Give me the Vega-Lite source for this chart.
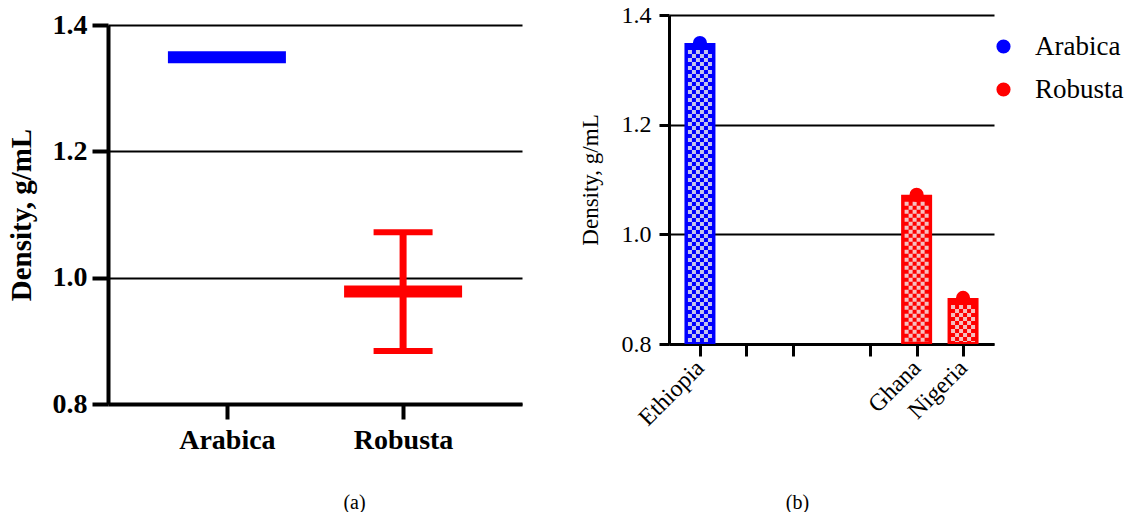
{
  "$schema": "https://vega.github.io/schema/vega-lite/v6.json",
  "background": "white",
  "padding": {"left": 7, "top": 3, "right": 0, "bottom": 0},
  "spacing": 57,
  "resolve": {"scale": {"color": "independent"}, "legend": {"color": "independent"}},
  "datasets": {
    "density": [
      {"country": "Ethiopia", "variety": "Arabica", "density": 1.349},
      {"country": "Ghana", "variety": "Robusta", "density": 1.072},
      {"country": "Nigeria", "variety": "Robusta", "density": 0.884}
    ]
  },
  "hconcat": [
    {
      "spacing": -11,
      "vconcat": [
        {
          "width": 10,
          "height": 7,
          "data": {"values": []},
          "mark": {"type": "point", "opacity": 0}
        },
        {
          "width": 414,
          "height": 379,
          "data": {"name": "density"},
          "encoding": {
            "x": {
              "field": "variety",
              "type": "nominal",
              "scale": {"type": "point", "padding": 0.675, "domain": ["Arabica", "Robusta"]},
              "axis": {
                "labelAngle": 0,
                "labelFontSize": 28,
                "labelFontWeight": "bold",
                "labelPadding": 7,
                "tickSize": 15,
                "tickWidth": 4,
                "domainWidth": 4,
                "title": "(a)",
                "titleX": 246,
                "titleY": 98,
                "titleFontSize": 20,
                "titleFontWeight": "normal",
                "titleBaseline": "middle",
                "titleAlign": "center"
              }
            },
            "color": {
              "field": "variety",
              "type": "nominal",
              "scale": {"domain": ["Arabica", "Robusta"], "range": ["#0000ff", "#ff0000"]},
              "legend": null
            }
          },
          "layer": [
            {
              "mark": {"type": "rule", "strokeWidth": 7},
              "encoding": {
                "y": {
                  "aggregate": "min",
                  "field": "density",
                  "type": "quantitative",
                  "title": "Density, g/mL",
                  "scale": {"domain": [0.8, 1.4], "nice": false, "zero": false},
                  "axis": {
                    "values": [0.8, 1.0, 1.2, 1.4],
                    "format": ".1f",
                    "grid": true,
                    "gridWidth": 2,
                    "domainWidth": 4,
                    "tickWidth": 4,
                    "tickSize": 16,
                    "labelFontSize": 28,
                    "labelFontWeight": "bold",
                    "labelPadding": 5,
                    "titleFontSize": 29,
                    "titleFontWeight": "bold",
                    "titlePadding": 16
                  }
                },
                "y2": {"aggregate": "max", "field": "density"}
              }
            },
            {
              "mark": {"type": "tick", "size": 59, "thickness": 6},
              "encoding": {"y": {"aggregate": "min", "field": "density", "type": "quantitative", "title": "Density, g/mL"}}
            },
            {
              "mark": {"type": "tick", "size": 59, "thickness": 6},
              "encoding": {"y": {"aggregate": "max", "field": "density", "type": "quantitative", "title": "Density, g/mL"}}
            },
            {
              "mark": {"type": "tick", "size": 118, "thickness": 12},
              "encoding": {"y": {"aggregate": "mean", "field": "density", "type": "quantitative", "title": "Density, g/mL"}}
            }
          ]
        }
      ]
    },
    {
      "width": 325,
      "height": 329,
      "data": {"name": "density"},
      "encoding": {
        "x": {
          "field": "country",
          "type": "nominal",
          "scale": {
            "type": "point",
            "padding": 1,
            "domain": ["e0", "Ethiopia", "s1", "s2", "c3", "s4", "s5", "c6", "s7", "s8", "s9", "s10", "c11", "s12", "s13", "Ghana", "s15", "s16", "Nigeria", "e1"]
          },
          "axis": {
            "values": ["Ethiopia", "c3", "c6", "c11", "Ghana", "Nigeria"],
            "labelExpr": "datum.value === 'Ethiopia' || datum.value === 'Ghana' || datum.value === 'Nigeria' ? datum.value : ''",
            "labelAngle": -45,
            "labelAlign": "right",
            "labelBaseline": "middle",
            "labelFontSize": 24,
            "labelPadding": 8,
            "labelOverlap": false,
            "tickSize": 12,
            "tickWidth": 3,
            "domainWidth": 3,
            "title": "(b)",
            "titleX": 128,
            "titleY": 158,
            "titleFontSize": 20,
            "titleFontWeight": "normal",
            "titleBaseline": "middle",
            "titleAlign": "center"
          }
        },
        "y": {
          "field": "density",
          "type": "quantitative",
          "title": "Density, g/mL",
          "scale": {"domain": [0.8, 1.4], "nice": false, "zero": false},
          "axis": {
            "values": [0.8, 1.0, 1.2, 1.4],
            "format": ".1f",
            "grid": true,
            "gridWidth": 2,
            "domainWidth": 3,
            "tickWidth": 3,
            "tickSize": 10,
            "labelFontSize": 24,
            "labelFontWeight": "normal",
            "labelPadding": 8,
            "titleFontSize": 23,
            "titleFontWeight": "normal",
            "titlePadding": 19
          }
        }
      },
      "layer": [
        {
          "mark": {"type": "bar", "size": 31},
          "encoding": {
            "y2": {"datum": 0.8},
            "color": {
              "field": "variety",
              "type": "nominal",
              "scale": {"domain": ["Arabica", "Robusta"], "range": ["#0000ff", "#ff0000"]},
              "legend": {"title": null, "orient": "none", "legendX": 321, "legendY": 18, "symbolType": "circle", "symbolSize": 200, "symbolOpacity": 1, "symbolStrokeWidth": 0, "labelFontSize": 27, "labelFont": "Liberation Serif", "labelColor": "black", "rowPadding": 15, "labelOffset": 18}
            }
          }
        },
        {
          "mark": {"type": "rule", "strokeWidth": 4, "strokeDash": [4, 4], "strokeDashOffset": 0, "xOffset": -10, "yOffset": 7, "y2Offset": -2},
          "encoding": {"y2": {"datum": 0.8}, "color": {"condition": {"test": "datum.variety === 'Arabica'", "value": "#c4c4ec"}, "value": "#f4c0c0"}}
        },
        {
          "mark": {"type": "rule", "strokeWidth": 4, "strokeDash": [4, 4], "strokeDashOffset": 4, "xOffset": -6, "yOffset": 7, "y2Offset": -2},
          "encoding": {"y2": {"datum": 0.8}, "color": {"condition": {"test": "datum.variety === 'Arabica'", "value": "#c4c4ec"}, "value": "#f4c0c0"}}
        },
        {
          "mark": {"type": "rule", "strokeWidth": 4, "strokeDash": [4, 4], "strokeDashOffset": 0, "xOffset": -2, "yOffset": 7, "y2Offset": -2},
          "encoding": {"y2": {"datum": 0.8}, "color": {"condition": {"test": "datum.variety === 'Arabica'", "value": "#c4c4ec"}, "value": "#f4c0c0"}}
        },
        {
          "mark": {"type": "rule", "strokeWidth": 4, "strokeDash": [4, 4], "strokeDashOffset": 4, "xOffset": 2, "yOffset": 7, "y2Offset": -2},
          "encoding": {"y2": {"datum": 0.8}, "color": {"condition": {"test": "datum.variety === 'Arabica'", "value": "#c4c4ec"}, "value": "#f4c0c0"}}
        },
        {
          "mark": {"type": "rule", "strokeWidth": 4, "strokeDash": [4, 4], "strokeDashOffset": 0, "xOffset": 6, "yOffset": 7, "y2Offset": -2},
          "encoding": {"y2": {"datum": 0.8}, "color": {"condition": {"test": "datum.variety === 'Arabica'", "value": "#c4c4ec"}, "value": "#f4c0c0"}}
        },
        {
          "mark": {"type": "rule", "strokeWidth": 4, "strokeDash": [4, 4], "strokeDashOffset": 4, "xOffset": 10, "yOffset": 7, "y2Offset": -2},
          "encoding": {"y2": {"datum": 0.8}, "color": {"condition": {"test": "datum.variety === 'Arabica'", "value": "#c4c4ec"}, "value": "#f4c0c0"}}
        },
        {
          "mark": {"type": "point", "filled": true, "size": 200, "opacity": 1},
          "encoding": {
            "color": {
              "field": "variety",
              "type": "nominal",
              "scale": {"domain": ["Arabica", "Robusta"], "range": ["#0000ff", "#ff0000"]},
              "legend": {"title": null, "orient": "none", "legendX": 321, "legendY": 18, "symbolType": "circle", "symbolSize": 200, "symbolOpacity": 1, "symbolStrokeWidth": 0, "labelFontSize": 27, "labelFont": "Liberation Serif", "labelColor": "black", "rowPadding": 15, "labelOffset": 18}
            }
          }
        }
      ]
    }
  ],
  "config": {
    "view": {"stroke": null},
    "font": "Liberation Serif",
    "axis": {
      "domainColor": "black",
      "tickColor": "black",
      "labelColor": "black",
      "titleColor": "black",
      "gridColor": "black",
      "gridOpacity": 1,
      "labelFont": "Liberation Serif",
      "titleFont": "Liberation Serif"
    }
  }
}
